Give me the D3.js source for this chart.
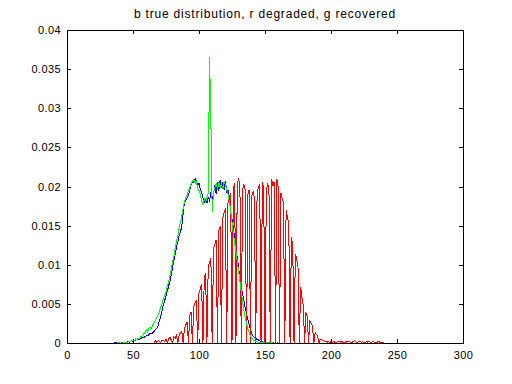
<!DOCTYPE html>
<html>
<head>
<meta charset="utf-8">
<script src="https://cdn.jsdelivr.net/npm/d3@7"></script>
<style>
  body { margin: 0; background: #fff; }
  svg { display: block; font-family: "Liberation Sans", Arial, sans-serif; }
</style>
</head>
<body>
<svg width="512" height="384"></svg>
<script>
// histogram values, in units of 1e-3, one per grey level starting at *Start
const trueStart = 36;
const trueDist = [
  0,0.1,0.1,0,0,0,0.1,0,0.1,0.1,
  0.2,0.1,0.2,0.3,0.2,0.3,0.4,0.4,0.5,0.5,
  0.6,0.7,0.7,0.8,0.9,0.9,1.1,1.2,1.2,1.3,
  1.5,1.7,1.9,2.2,2.8,3.4,4.1,4.9,5.4,6.0,
  6.6,7.3,7.9,8.7,9.6,10.6,11.4,12.3,12.9,13.8,
  14.2,15.0,16.6,17.9,18.2,18.6,18.9,19.6,20.2,20.5,
  20.6,21.0,20.7,20.2,20.4,19.6,19.2,18.6,18.0,18.3,
  17.9,18.6,18.2,19.3,18.4,19.0,20.2,19.1,20.6,19.4,
  20.8,19.8,20.5,19.6,20.7,19.3,19.5,18.2,16.8,15.9,
  14.8,13.3,12.2,10.9,9.6,8.3,7.2,6.3,5.4,4.5,
  3.8,3.0,2.3,1.7,1.2,0.9,0.7,0.6,0.4,0.4,
  0.3,0.2,0.2,0.1,0.1,0.1,0,0.1,0,0,
  0.1,0,0,0,0.1
];

// degraded histogram has empty bins (stretched grey levels)
const degradedStart = 66;
const degraded = [
  0,0.3,0.1,0.3,0.2,0,0.4,0.3,0.2,0.5,
  0,0.5,0.7,0.4,0,0.8,0.6,1.0,
  0, 1.1,1.3,1.5, 0, 1.9,2.3,2.7, 0, 3.5,4.0, 0, 4.6,5.1,5.5,
  0, 6.4,6.9,7.5, 0, 8.4,8.9, 0, 9.8,10.3,10.9, 0, 12.0,12.6,13.2,
  0, 14.3,14.9, 0, 16.0,16.6,17.2, 0, 18.1,18.6,19.1, 0, 19.8,20.4,
  0, 20.5,20.9,20.2, 0, 19.5,20.3,19.6, 0, 19.0,19.6, 0, 18.8,19.3,18.5,
  0, 19.2,19.8,20.3, 0, 20.6,19.8, 0, 19.3,20.4,19.7, 0, 20.9,20.1,20.6,
  0, 21.0,19.9, 0, 19.2,18.5,17.9, 0, 17.0,16.1,15.3, 0, 13.5,12.6,
  0, 11.4,10.8,9.7, 0, 7.2,5.8,4.8, 0, 3.9,3.4, 0, 2.9,2.5,2.1,
  0, 1.3,1.1,0.8, 0,
  0.5,0.4,0.3,0.2,
  0.2,0.1,0.2,0,0.2,0.1,0.2,0.1,0,0.2,
  0.2,0.1,0.2,0.1,0,0.2,0.1,0.2,0.2,0,
  0.1,0.2,0.3,0.1,0,0.2,0.2,0.1,0.2,0,
  0.1,0.2,0.1,0.2,0,0.1,0.2,0.1,0,0.1,
  0.2,0.1,0,0.1,0
];

const recoveredStart = 36;
const recovered = [
  0,0,0,0.1,0,0,0,0.1,0,0.1,
  0.1,0.2,0.2,0.3,0.3,0.3,0.5,0.4,0.6,0.6,
  0.8,0.8,1.1,1.4,1.7,1.4,1.9,2.0,1.8,2.3,
  2.6,2.9,3.3,3.6,4.0,4.6,5.0,5.6,6.1,6.5,
  7.3,7.8,8.6,9.5,10.4,11.1,12.2,13.0,13.7,14.8,
  15.4,16.3,17.2,18.1,18.6,18.9,19.5,19.8,20.3,20.7,
  20.9,20.4,20.6,19.8,19.5,19.0,18.2,17.7,18.4,18.0,
  18.6,19.2,36.5,28.5,16.8,19.2,19.8,20.4,19.6,20.6,
  19.9,20.3,19.7,20.6,20.2,19.6,19.0,18.0,16.9,15.5,
  14.0,12.8,11.6,10.4,9.2,7.9,6.6,5.3,4.2,3.2,
  2.5,1.8,1.3,0.9,0.6,0.4,0.3,0.2,0.2,0.1,
  0.1,0.1,0.1,0,0.1,0,0.1,0,0,0.1,
  0,0,0,0,0
];

const xTicks = [0, 50, 100, 150, 200, 250, 300];
const yTicks = [0, 0.005, 0.01, 0.015, 0.02, 0.025, 0.03, 0.035, 0.04];
const titleText = "b true distribution, r degraded, g recovered";

const svg = d3.select("svg");
const plotL = 67, plotR = 463, plotT = 30, plotB = 343;

const x = d3.scaleLinear().domain([0, 300]).range([plotL, plotR]);
const y = d3.scaleLinear().domain([0, 0.04]).range([plotB, plotT]);

const toPoints = (start, vals) => vals.map((v, i) => [start + i, v / 1000]);

const line = d3.line()
    .x(d => x(d[0]))
    .y(d => y(d[1]));

const series = [
    { pts: toPoints(trueStart, trueDist), color: "#0000ff" },
    { pts: toPoints(degradedStart, degraded), color: "#ff0000" },
    { pts: toPoints(recoveredStart, recovered), color: "#00ff00" }
];

svg.append("g")
    .attr("fill", "none")
    .attr("stroke-width", 1)
    .attr("shape-rendering", "crispEdges")
    .selectAll("path")
    .data(series)
    .join("path")
    .attr("stroke", d => d.color)
    .attr("d", d => line(d.pts));

// axes, ticks pointing inward on every side
const fmtY = d => d === 0 ? "0" : String(+d.toFixed(3));

const styleAxis = g => {
    g.select(".domain").remove();
    g.selectAll("line").attr("stroke", "#000").attr("shape-rendering", "crispEdges");
    g.selectAll("text").attr("fill", "#000").attr("font-size", 11).attr("letter-spacing", 0.4);
};

svg.append("g")
    .attr("transform", `translate(0,${plotB})`)
    .call(d3.axisBottom(x).tickValues(xTicks).tickSizeInner(-4).tickSizeOuter(0).tickPadding(8))
    .call(styleAxis);

svg.append("g")
    .attr("transform", `translate(0,${plotT})`)
    .call(d3.axisTop(x).tickValues(xTicks).tickSizeInner(-4).tickSizeOuter(0).tickFormat(""))
    .call(styleAxis);

svg.append("g")
    .attr("transform", `translate(${plotL},0)`)
    .call(d3.axisLeft(y).tickValues(yTicks).tickSizeInner(-4).tickSizeOuter(0).tickPadding(6).tickFormat(fmtY))
    .call(styleAxis);

svg.append("g")
    .attr("transform", `translate(${plotR},0)`)
    .call(d3.axisRight(y).tickValues(yTicks).tickSizeInner(-4).tickSizeOuter(0).tickFormat(""))
    .call(styleAxis);

svg.append("rect")
    .attr("x", plotL + 0.5)
    .attr("y", plotT + 0.5)
    .attr("width", plotR - plotL)
    .attr("height", plotB - plotT)
    .attr("fill", "none")
    .attr("stroke", "#000")
    .attr("shape-rendering", "crispEdges");

svg.append("text")
    .attr("x", (plotL + plotR) / 2)
    .attr("y", 18)
    .attr("text-anchor", "middle")
    .attr("font-size", 12)
    .attr("letter-spacing", 0.8)
    .text(titleText);
</script>
</body>
</html>
